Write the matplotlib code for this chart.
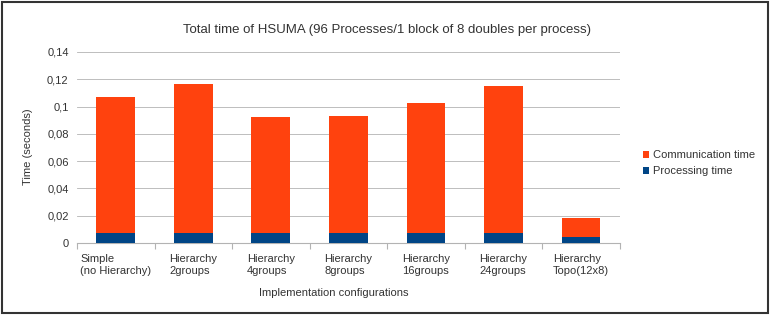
import numpy as np
import matplotlib
matplotlib.use("Agg")
import matplotlib.pyplot as plt
from matplotlib.patches import Rectangle

plt.rcParams['font.family'] = ['Liberation Sans', 'DejaVu Sans']

configs = ["Simple\n(no Hierarchy)", "Hierarchy\n2groups", "Hierarchy\n4groups",
           "Hierarchy\n8groups", "Hierarchy\n16groups", "Hierarchy\n24groups",
           "Hierarchy\nTopo(12x8)"]
processing = [0.0073, 0.0073, 0.0073, 0.0073, 0.0073, 0.0073, 0.0045]
communication = [0.1000, 0.1090, 0.0852, 0.0855, 0.0950, 0.1080, 0.0135]
yticks = [0, 0.02, 0.04, 0.06, 0.08, 0.1, 0.12, 0.14]
ytick_labels = ["0", "0,02", "0,04", "0,06", "0,08", "0,1", "0,12", "0,14"]

c_comm = "#ff420e"
c_proc = "#004586"
txt = "#333333"

fig = plt.figure(figsize=(7.7, 3.15), dpi=100)
ax = fig.add_axes([0.1, 0.229, 0.705, 0.606])

x = np.arange(len(configs))
ax.bar(x, processing, width=0.5, color=c_proc, label="Processing time", zorder=3)
ax.bar(x, communication, width=0.5, bottom=processing, color=c_comm,
       label="Communication time", zorder=3)

ax.set_xlim(-0.5, len(configs) - 0.5)
ax.set_ylim(0, 0.14)
ax.set_yticks(yticks)
ax.set_yticklabels(ytick_labels, fontsize=8, color=txt)
ax.set_xticks(x)
ax.set_xticklabels(configs, fontsize=8, color=txt, multialignment='left')
ax.tick_params(axis='x', length=0, pad=8)
ax.tick_params(axis='y', length=0, pad=6)
# category boundary ticks
ax.set_xticks(np.arange(-0.5, len(configs)), minor=True)
ax.tick_params(axis='x', which='minor', length=4, color='#b3b3b3', width=0.8)
ax.grid(axis='y', color='#b3b3b3', linewidth=0.6, zorder=0)
for s in ['top', 'right', 'left']:
    ax.spines[s].set_visible(False)
ax.spines['bottom'].set_color('#b3b3b3')
ax.spines['bottom'].set_linewidth(0.8)

fig.text(0.502, 0.905, "Total time of HSUMA (96 Processes/1 block of 8 doubles per process)",
         ha='center', va='center', fontsize=9.5, color=txt)
fig.text(0.434, 0.07, "Implementation configurations", ha='center', va='center',
         fontsize=8, color=txt)
fig.text(0.037, 0.535, "Time (seconds)", ha='center', va='center', rotation=90,
         fontsize=8, color=txt)

handles, labels = ax.get_legend_handles_labels()
leg = fig.legend(handles[::-1], labels[::-1], loc='center left',
                 bbox_to_anchor=(0.829, 0.482), frameon=False, fontsize=8,
                 handlelength=0.6, handleheight=0.6, handletextpad=0.3,
                 labelspacing=0.55, borderaxespad=0)
for t in leg.get_texts():
    t.set_color(txt)

fig.patches.append(Rectangle((0.003, 0.006), 0.994, 0.988, transform=fig.transFigure,
                             fill=False, edgecolor='#333333', linewidth=1.5))

fig.savefig("out.png", dpi=100)
